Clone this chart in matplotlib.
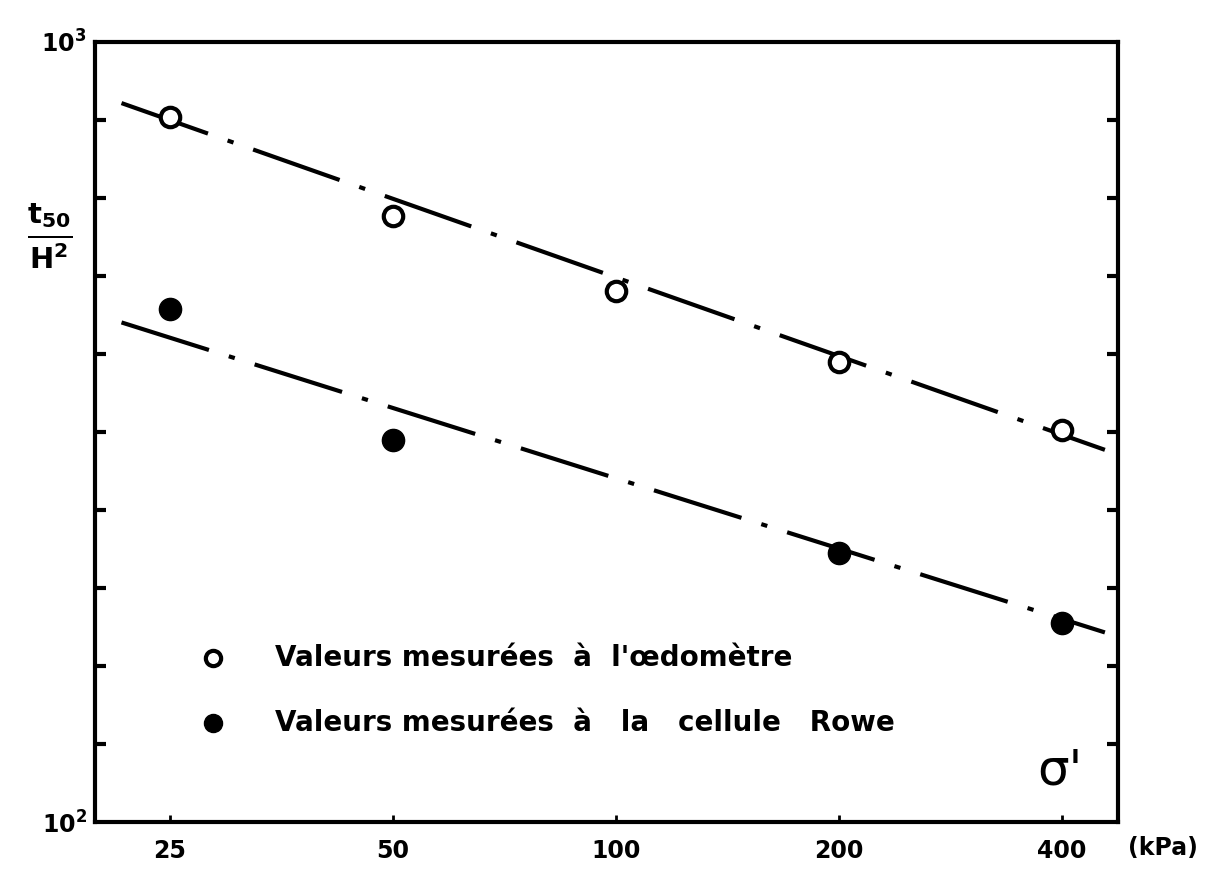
import matplotlib.pyplot as plt
from matplotlib.lines import Line2D
from matplotlib.ticker import FixedLocator, NullFormatter

# Contrainte effective (kPa) et t50/H2
sigma_oedo = [25, 50, 100, 200, 400]
t50_oedo = [801, 598, 480, 389, 318]

sigma_rowe = [25, 50, 200, 400]
t50_rowe = [455, 309, 221, 180]

# Droites d'ajustement (extrémités)
fit_x = [21.5, 457]
fit_oedo = [835, 300]
fit_rowe = [437, 175]

x_ticks = [25, 50, 100, 200, 400]
x_labels = ['25', '50', '100', '200', '400']
y_minor = [10 ** (2 + k / 10) for k in range(1, 10)]

plt.rcParams['font.family'] = ['DejaVu Sans']
plt.rcParams['font.weight'] = 'bold'
plt.rcParams['mathtext.default'] = 'bf'

fig = plt.figure(figsize=(12.14, 8.72), dpi=100)
ax = fig.add_axes([95 / 1214, 50 / 872, (1118 - 95) / 1214, (822 - 42) / 872])
ax.set_xscale('log')
ax.set_yscale('log')
ax.set_xlim(19.8, 476)
ax.set_ylim(100, 1000)

dash = (0, (22, 5, 1.5, 5))
ax.plot(fit_x, fit_oedo, color='black', lw=3, linestyle=dash)
ax.plot(fit_x, fit_rowe, color='black', lw=3, linestyle=dash)

ax.plot(sigma_oedo, t50_oedo, 'o', ms=14, mfc='white', mec='black', mew=3)
ax.plot(sigma_rowe, t50_rowe, 'o', ms=16, mfc='black', mec='black')

for s in ax.spines.values():
    s.set_linewidth(3)

ax.xaxis.set_major_locator(FixedLocator(x_ticks))
ax.xaxis.set_minor_locator(FixedLocator([]))
ax.set_xticklabels(x_labels, fontsize=17, fontweight='bold')
ax.tick_params(axis='x', direction='in', length=5, width=2, pad=12)

ax.yaxis.set_major_locator(FixedLocator([100, 1000]))
ax.yaxis.set_minor_locator(FixedLocator(y_minor))
ax.yaxis.set_minor_formatter(NullFormatter())
ax.set_yticklabels(['$10^2$', '$10^3$'], fontsize=17)
ax.tick_params(axis='y', which='both', direction='in', left=True, right=True,
               length=8, width=3)
ax.tick_params(axis='y', which='major', length=0, pad=6)

fig.text(1128 / 1214, 1 - 848 / 872, '(kPa)', fontsize=17, fontweight='bold',
         va='center', ha='left')
fig.text(50 / 1214, 1 - 236 / 872, r'$\frac{t_{50}}{H^2}$', fontsize=30,
         ha='center', va='center')

ax.text(0.965, 0.035, "σ'", transform=ax.transAxes, fontsize=36,
        fontweight='normal', ha='right', va='bottom')

# Légende
leg_y = [658, 723]
leg_txt = ["Valeurs mesurées  à  l'œdomètre",
           "Valeurs mesurées  à   la   cellule   Rowe"]
fig.add_artist(Line2D([213 / 1214], [1 - leg_y[0] / 872], marker='o', ms=11,
                      mfc='white', mec='black', mew=3, transform=fig.transFigure))
fig.add_artist(Line2D([213 / 1214], [1 - leg_y[1] / 872], marker='o', ms=13,
                      mfc='black', mec='black', transform=fig.transFigure))
for y, t in zip(leg_y, leg_txt):
    fig.text(275 / 1214, 1 - y / 872, t, fontsize=20, fontweight='bold',
             ha='left', va='center')

fig.savefig('out.png', dpi=100)
